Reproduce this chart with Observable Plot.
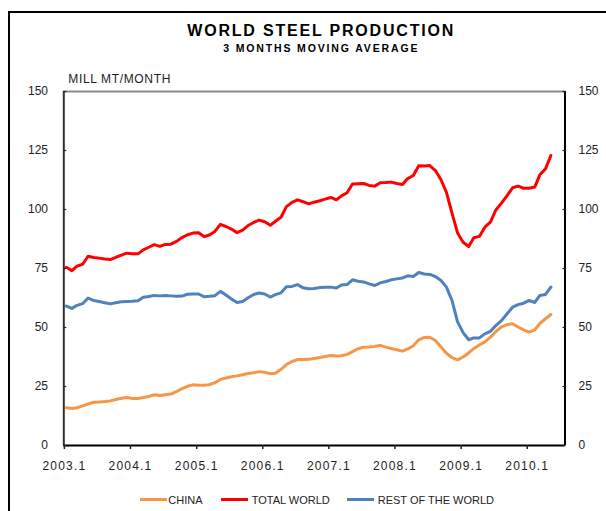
<!DOCTYPE html>
<html>
<head>
<meta charset="utf-8">
<script src="https://cdn.jsdelivr.net/npm/d3@7"></script>
<script src="https://cdn.jsdelivr.net/npm/@observablehq/plot@0.6"></script>
<style>
  html, body { margin: 0; padding: 0; background: #fff; }
  body { font-family: "Liberation Sans", Arial, sans-serif; }
  #wrap { position: relative; width: 606px; height: 511px; overflow: hidden; background: #fff; }
  #chart { position: absolute; left: 0; top: 0; }
  #frame { position: absolute; left: 8px; top: 11px; width: 700px; height: 600px; border: 2.5px solid #000; box-sizing: border-box; pointer-events: none; }
  .t { position: absolute; white-space: nowrap; line-height: 1; color: #000; }
  #title { left: 187.3px; top: 23.2px; font-size: 16px; font-weight: bold; letter-spacing: 1.8px; }
  #subtitle { left: 223.3px; top: 43.1px; font-size: 10.5px; font-weight: bold; letter-spacing: 1.85px; }
  #unit { left: 68.3px; top: 73.4px; font-size: 12px; letter-spacing: 0.65px; color: #222; }
  .sw { position: absolute; height: 3.4px; width: 27px; top: 498px; }
  .lg { position: absolute; white-space: nowrap; line-height: 1; font-size: 11px; top: 494.9px; color: #222; }
  svg [aria-label="x-axis tick label"] { letter-spacing: 1.2px; }
</style>
</head>
<body>
<div id="wrap">
  <div id="chart"></div>
  <div id="frame"></div>
  <div class="t" id="title">WORLD STEEL PRODUCTION</div>
  <div class="t" id="subtitle">3 MONTHS MOVING AVERAGE</div>
  <div class="t" id="unit">MILL MT/MONTH</div>
  <div id="legend"></div>
</div>
<script>
// ---- Data (monthly 3MMA, Jan 2003 .. May 2010) ----
const seriesNames = ["CHINA", "TOTAL WORLD", "REST OF THE WORLD"];
const seriesColors = ["#F79646", "#FF0000", "#4F81BD"];

const china = [
  16.0, 15.7, 16.0, 16.8, 17.6, 18.3, 18.4, 18.6, 18.9, 19.5, 20.0, 20.3,
  19.9, 19.9, 20.3, 20.8, 21.5, 21.2, 21.5, 21.8, 22.9, 24.1, 25.1, 25.7,
  25.5, 25.5, 25.8, 26.6, 28.0, 28.6, 29.1, 29.5, 30.0, 30.5, 30.8, 31.3,
  31.0, 30.4, 30.6, 32.3, 34.3, 35.6, 36.4, 36.4, 36.5, 36.9, 37.3, 37.7,
  38.1, 37.9, 38.0, 38.6, 39.8, 41.0, 41.6, 41.7, 42.0, 42.4, 41.7, 41.1,
  40.6, 40.0, 40.9, 42.3, 44.8, 45.8, 45.9, 44.5, 41.7, 39.1, 37.2, 36.3,
  37.5, 39.2, 41.1, 42.6, 43.9, 45.9, 48.3, 50.3, 51.2, 51.6, 50.2, 49.0,
  48.0, 49.0, 51.7, 53.7, 55.5
];

const totalWorld = [
  75.5, 74.1, 76.0, 76.8, 80.2, 79.7, 79.4, 79.0, 78.8, 79.7, 80.7, 81.5,
  81.3, 81.2, 82.9, 84.0, 85.1, 84.4, 85.2, 85.3, 86.5, 88.1, 89.3, 90.0,
  90.1, 88.5, 89.2, 90.7, 93.7, 92.8, 91.7, 90.2, 91.3, 93.2, 94.5, 95.5,
  94.8, 93.3, 95.0, 96.7, 101.2, 103.0, 104.1, 103.3, 102.4, 103.1, 103.7, 104.4,
  105.1, 104.1, 105.8, 107.1, 110.8, 110.9, 111.0, 110.2, 109.9, 111.3, 111.4, 111.6,
  111.0, 110.6, 113.1, 114.4, 118.5, 118.4, 118.6, 116.5, 112.6, 107.3, 98.4, 90.2,
  86.1, 84.3, 88.0, 88.6, 92.5, 94.6, 99.8, 102.7, 105.9, 109.2, 109.9, 109.0,
  109.0, 109.5, 114.7, 117.2, 122.9
];

const restOfWorld = [
  59.1, 58.1, 59.4, 60.1, 62.5, 61.4, 61.0, 60.5, 60.0, 60.5, 60.9, 61.0,
  61.1, 61.3, 62.8, 63.1, 63.6, 63.4, 63.6, 63.4, 63.2, 63.3, 64.1, 64.2,
  64.2, 63.0, 63.2, 63.5, 65.3, 63.8, 62.1, 60.6, 61.0, 62.6, 64.0, 64.6,
  64.2, 62.9, 63.9, 64.7, 67.3, 67.4, 68.2, 66.8, 66.4, 66.5, 66.9, 67.1,
  67.1, 66.7, 68.0, 68.2, 70.2, 69.6, 69.3, 68.5, 67.8, 68.9, 69.5, 70.2,
  70.6, 71.0, 71.9, 71.6, 73.3, 72.7, 72.5, 71.6, 69.9, 67.1, 61.4, 52.5,
  47.8, 44.8, 45.6, 45.6, 47.3, 48.4, 50.8, 52.9, 55.8, 58.6, 59.7, 60.3,
  61.5, 60.6, 63.6, 64.0, 67.1
];

const xTickLabels = ["2003.1", "2004.1", "2005.1", "2006.1", "2007.1", "2008.1", "2009.1", "2010.1"];
const yTickValues = [0, 25, 50, 75, 100, 125, 150];

// ---- Build table ----
const rows = [];
[china, totalWorld, restOfWorld].forEach((arr, s) => {
  arr.forEach((v, i) => rows.push({date: new Date(Date.UTC(2003, i, 15)), value: v, series: seriesNames[s]}));
});
const xStart = new Date(Date.UTC(2003, 0, 1));
const xEnd = new Date(Date.UTC(2010, 7, 1));
const xTicks = xTickLabels.map((_, k) => new Date(Date.UTC(2003 + k, 0, 1)));

const chart = Plot.plot({
  width: 606,
  height: 511,
  marginLeft: 63.3,
  marginRight: 41.5,
  marginTop: 91,
  marginBottom: 66,
  style: {background: "transparent", fontFamily: "'Liberation Sans', Arial, sans-serif", color: "#222", overflow: "visible"},
  x: {type: "utc", domain: [xStart, xEnd]},
  y: {domain: [0, 150]},
  color: {domain: seriesNames, range: seriesColors},
  marks: [
    Plot.ruleY([150], {stroke: "#8a8a8a", strokeWidth: 2}),
    Plot.line(rows, {x: "date", y: "value", z: "series", stroke: "series", strokeWidth: 3, strokeLinejoin: "round", strokeLinecap: "round"}),
    Plot.ruleX([xStart], {stroke: "#333", strokeWidth: 2}),
    Plot.ruleX([xEnd], {stroke: "#000", strokeWidth: 2}),
    Plot.ruleY([0], {stroke: "#000", strokeWidth: 2}),
    Plot.axisY({anchor: "left", ticks: yTickValues, tickSize: 3, dx: 3, tickPadding: 15.8, fontSize: 12, label: null, strokeWidth: 1.2}),
    Plot.axisY({anchor: "right", ticks: yTickValues, tickSize: 3, dx: -3, tickPadding: 13.5, fontSize: 12, label: null, strokeWidth: 1.2}),
    Plot.axisX({ticks: xTicks, tickSize: 4, tickPadding: 11.5, fontSize: 12, label: null, strokeWidth: 1.5, dx: 0.6,
      tickFormat: d => xTickLabels[d.getUTCFullYear() - 2003]})
  ]
});
document.getElementById("chart").appendChild(chart);

// ---- Legend ----
const legend = document.getElementById("legend");
const swLeft = [139.5, 220.9, 347.4];
const txLeft = [168.3, 251.7, 377.7];
seriesNames.forEach((name, k) => {
  const sw = document.createElement("div");
  sw.className = "sw";
  sw.style.left = swLeft[k] + "px";
  sw.style.background = seriesColors[k];
  legend.appendChild(sw);
  const tx = document.createElement("div");
  tx.className = "lg";
  tx.style.left = txLeft[k] + "px";
  tx.textContent = name;
  legend.appendChild(tx);
});
</script>
</body>
</html>
